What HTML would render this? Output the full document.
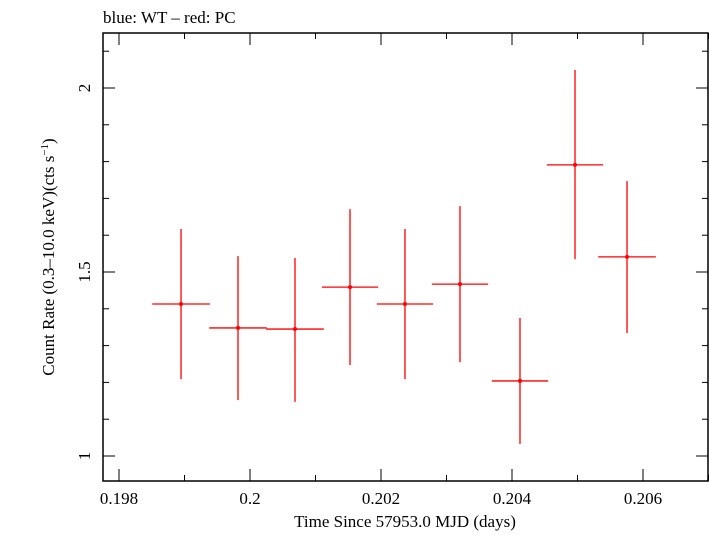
<!DOCTYPE html>
<html><head><meta charset="utf-8"><style>
body{margin:0;background:#fff;}
svg text{font-family:"Liberation Serif",serif;fill:#000;}
</style></head><body>
<svg id="chart" width="709" height="532" xmlns="http://www.w3.org/2000/svg"></svg>
<script>
const xTicks=[0.198,0.2,0.202,0.204,0.206];
const xTickLabels=["0.198","0.2","0.202","0.204","0.206"];
const yTicks=[1,1.5,2];
const yTickLabels=["1","1.5","2"];
const times=[0.198947,0.199817,0.200687,0.201527,0.202366,0.203206,0.204122,0.204962,0.205756];
const halfWidths=[0.00044,0.00044,0.00044,0.00043,0.00043,0.00043,0.00043,0.00043,0.00044];
const rates=[1.413,1.348,1.345,1.459,1.413,1.467,1.204,1.791,1.541];
const rateHi=[1.617,1.543,1.538,1.671,1.617,1.679,1.375,2.049,1.747];
const rateLo=[1.209,1.152,1.147,1.247,1.209,1.255,1.033,1.535,1.334];
const L=103,R=708,T=33,B=481;
const sx=v=>119+(v-0.198)*65500;
const sy=v=>456-(v-1)*368;
const svg=document.getElementById('chart');
const NS='http://www.w3.org/2000/svg';
function mk(tag,attrs,parent){const e=document.createElementNS(NS,tag);for(const k in attrs)e.setAttribute(k,attrs[k]);(parent||svg).appendChild(e);return e;}
const frame=mk('rect',{x:L,y:T,width:R-L,height:B-T,fill:'none',stroke:'#000','stroke-width':1.5});


const ax=mk('g',{stroke:'#000','stroke-width':1});


for(let v=0.198;v<=0.2071;v+=0.001){const x=sx(v);const major=Math.abs((v-0.198)/0.002-Math.round((v-0.198)/0.002))<0.01;const len=major?12:6;
mk('line',{x1:x,x2:x,y1:B,y2:B-len},ax);mk('line',{x1:x,x2:x,y1:T,y2:T+len},ax);}
for(let v=0.9;v<=2.21;v+=0.1){const y=sy(v);if(y<T||y>B)continue;const major=Math.abs(v*2-Math.round(v*2))<0.01;const len=major?12:6;
mk('line',{x1:L,x2:L+len,y1:y,y2:y},ax);mk('line',{x1:R,x2:R-len,y1:y,y2:y},ax);}
xTicks.forEach((v,i)=>{const t=mk('text',{x:sx(v),y:504,'text-anchor':'middle','font-size':17});t.textContent=xTickLabels[i];
});
yTicks.forEach((v,i)=>{const t=mk('text',{x:90,y:sy(v),'text-anchor':'middle','font-size':17,transform:`rotate(-90 90 ${sy(v)})`});t.textContent=yTickLabels[i];
});
const xt=mk('text',{x:405,y:527,'text-anchor':'middle','font-size':17});xt.textContent='Time Since 57953.0 MJD (days)';

const yt=mk('text',{x:54,y:257,'text-anchor':'middle','font-size':17,transform:'rotate(-90 54 257)'});
yt.innerHTML='Count Rate (0.3\u201310.0 keV)(cts s<tspan baseline-shift="super" font-size="11">\u22121</tspan>)';

const tt=mk('text',{x:103,y:23,'font-size':17});tt.textContent='blue: WT \u2013 red: PC';

const g=mk('g',{stroke:'#f00','stroke-width':1.3});

times.forEach((t,i)=>{const pg=mk('g',{},g);

mk('line',{x1:sx(t-halfWidths[i]),x2:sx(t+halfWidths[i]),y1:sy(rates[i]),y2:sy(rates[i])},pg);
mk('line',{x1:sx(t),x2:sx(t),y1:sy(rateHi[i]),y2:sy(rateLo[i])},pg);
mk('circle',{cx:sx(t),cy:sy(rates[i]),r:2,fill:'#f00',stroke:'none'},pg);});
</script>
</body></html>
